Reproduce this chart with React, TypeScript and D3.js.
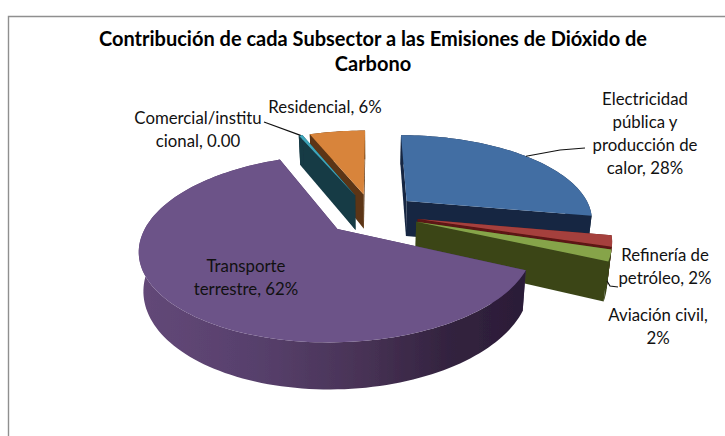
import React from "react";
import * as d3 from "d3";

const categories = ["Electricidad pública y producción de calor", "Refinería de petróleo", "Aviación civil", "Transporte terrestre", "Comercial/institucional", "Residencial"];
const values = [28, 2, 2, 62, 0.4, 6];
const topColors = ["#436ea3", "#a5403d", "#86a44a", "#6c5288", "#3ea6bb", "#d8843a"];
const sideColors = ["#172843", "#5c1512", "#3a4519", "#4a3560", "#163a45", "#5b3413"];
const drawOrder = [5, 4, 0, 1, 2, 3];
const labelLines = [
  ["Electricidad", "pública y", "producción de", "calor, 28%"],
  ["Refinería de", "petróleo, 2%"],
  ["Aviación civil,", "2%"],
  ["Transporte", "terrestre, 62%"],
  ["Comercial/institu", "cional, 0.00"],
  ["Residencial, 6%"],
];
const labelPos: [number, number][] = [[645, 105], [665, 261], [658, 321], [246, 272], [198, 124], [325, 113]];
const titleLines = ["Contribución de cada Subsector a las Emisiones de Dióxido de", "Carbono"];

const W = 725, H = 436;
const CX = 372, CY = 214, R = 186, TILT = 0.45, DEPTH = 5, HEIGHT = 36, EXPLODE = 0.25;
const FONT = "Lato, 'Open Sans', sans-serif";

const arcs = d3.pie<number>().sort(null).value((d) => d)(values);

function project(wx: number, wy: number, z: number): [number, number] {
  const s = DEPTH / (DEPTH + wy);
  const shrink = 1 - z * 0.02;
  return [CX + wx * R * s * shrink, CY - wy * R * TILT * s + z * HEIGHT * s];
}

function slicePaths(i: number) {
  const a = arcs[i];
  const mid = (a.startAngle + a.endAngle) / 2;
  const ox = Math.sin(mid) * EXPLODE, oy = Math.cos(mid) * EXPLODE;
  const n = Math.max(2, Math.ceil((a.endAngle - a.startAngle) / 0.03));
  const angles = d3.range(n + 1).map((k) => a.startAngle + ((a.endAngle - a.startAngle) * k) / n);
  const rim = (z: number) => angles.map((t) => project(ox + Math.sin(t), oy + Math.cos(t), z));
  const apex = (z: number) => project(ox, oy, z);
  const line = d3.line();
  const top = line([apex(0), ...rim(0)])! + "Z";
  const side = line([...rim(0), ...rim(1).reverse()])! + "Z";
  const faceA = line([apex(0), rim(0)[0], rim(1)[0], apex(1)])! + "Z";
  const faceB = line([apex(0), rim(0)[n], rim(1)[n], apex(1)])! + "Z";
  const rimPoint = (t: number) => project(ox + Math.sin(t), oy + Math.cos(t), 0);
  return { top, side, faceA, faceB, rimPoint, mid };
}

export default function App() {
  const paths = values.map((_, i) => slicePaths(i));
  const elec = paths[0].rimPoint(paths[0].mid);
  const com = paths[4].rimPoint(paths[4].mid);
  return (
    <svg width={W} height={H} style={{ position: "absolute", left: 0, top: 0, background: "#fff" }}>
      <defs>
        <linearGradient id="rimPurple" gradientUnits="userSpaceOnUse" x1="140" x2="525" y1="0" y2="0">
          <stop offset="0" stopColor="#634878" />
          <stop offset="0.3" stopColor="#57406c" />
          <stop offset="0.55" stopColor="#4a3458" />
          <stop offset="0.8" stopColor="#33233f" />
          <stop offset="1" stopColor="#2b1c37" />
        </linearGradient>
        <filter id="soft" x="-5%" y="-5%" width="110%" height="110%">
          <feGaussianBlur stdDeviation="0.45" />
        </filter>
      </defs>
      <path d={`M8.5,${H}V16.5H${W}`} fill="none" stroke="#8f8f8f" strokeWidth={1.4} />
      <g filter="url(#soft)">
        {drawOrder.map((i) => (
          <g key={categories[i]}>
            <path d={paths[i].faceA} fill={sideColors[i]} />
            <path d={paths[i].faceB} fill={sideColors[i]} />
            <path d={paths[i].side} fill={i === 3 ? "url(#rimPurple)" : sideColors[i]} />
            <path d={paths[i].top} fill={topColors[i]} />
          </g>
        ))}
      </g>
      <g fill="none" stroke="#111" strokeWidth={1.2}>
        <path d={d3.line()([elec, [560, 150], [585, 148]])!} />
        <path d={d3.line()([[264, 122], com])!} />
        <path d={d3.line()([[607, 281], [610, 286], [618, 287]])!} />
      </g>
      <g fontFamily={FONT} textAnchor="middle" fill="#000">
        {titleLines.map((t, k) => (
          <text key={t} x={373} y={46 + k * 25} fontSize={20} fontWeight={700}>{t}</text>
        ))}
        {labelLines.map((lines, i) =>
          lines.map((t, k) => (
            <text key={t} x={labelPos[i][0]} y={labelPos[i][1] + k * 23} fontSize={16.8} fill="#111">{t}</text>
          ))
        )}
      </g>
    </svg>
  );
}
